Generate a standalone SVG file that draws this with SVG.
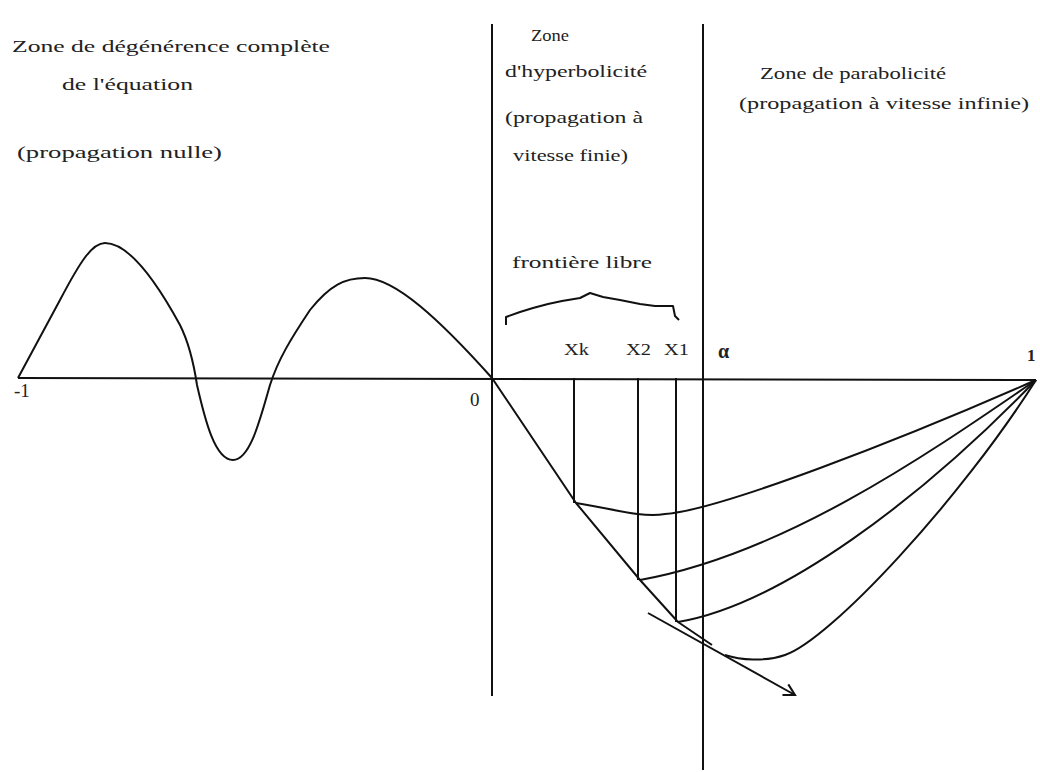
<svg xmlns="http://www.w3.org/2000/svg" width="1040" height="772" viewBox="0 0 1040 772">
<style>
text{font-family:"Liberation Serif","Times New Roman",serif;font-size:17px;fill:#222}
.ln{fill:none;stroke:#111;stroke-width:2;stroke-linejoin:round}
</style>
<defs>
<marker id="arr" markerWidth="14" markerHeight="14" refX="12" refY="7" orient="auto" markerUnits="userSpaceOnUse">
<path d="M1,1 L12,7 L1,13" fill="none" stroke="#111" stroke-width="2"/>
</marker>
</defs>
<rect width="1040" height="772" fill="#fff"/>
<g id="labels">
<text x="12" y="52" textLength="318" lengthAdjust="spacingAndGlyphs">Zone de dégénérence complète</text>
<text x="62" y="90" textLength="131" lengthAdjust="spacingAndGlyphs">de l'équation</text>
<text x="17" y="158" textLength="205" lengthAdjust="spacingAndGlyphs">(propagation nulle)</text>
<text x="531" y="41" textLength="38" lengthAdjust="spacingAndGlyphs">Zone</text>
<text x="505" y="77" textLength="142" lengthAdjust="spacingAndGlyphs">d'hyperbolicité</text>
<text x="505" y="123" textLength="138" lengthAdjust="spacingAndGlyphs">(propagation à</text>
<text x="513" y="161" textLength="115" lengthAdjust="spacingAndGlyphs">vitesse finie)</text>
<text x="760" y="79" textLength="186" lengthAdjust="spacingAndGlyphs">Zone de parabolicité</text>
<text x="739" y="109" textLength="290" lengthAdjust="spacingAndGlyphs">(propagation à vitesse infinie)</text>
<text x="512" y="268" textLength="140" lengthAdjust="spacingAndGlyphs">frontière libre</text>
<text x="564" y="355" textLength="25" lengthAdjust="spacingAndGlyphs">Xk</text>
<text x="626" y="355" textLength="25" lengthAdjust="spacingAndGlyphs">X2</text>
<text x="664" y="355" textLength="25" lengthAdjust="spacingAndGlyphs">X1</text>
<text x="718" y="358" style="font-weight:bold;font-size:20px">α</text>
<text x="14" y="397" style="font-size:19px">-1</text>
<text x="470" y="406" style="font-size:19px">0</text>
<text x="1027" y="361" style="font-weight:bold">1</text>
</g>
<g id="connectors">
<line class="ln" x1="18" y1="378" x2="1036" y2="380"/>
<line class="ln" x1="492" y1="24" x2="492" y2="696"/>
<line class="ln" x1="703" y1="24" x2="703" y2="770"/>
<line class="ln" x1="574" y1="378" x2="574" y2="503"/>
<line class="ln" x1="638" y1="378" x2="638" y2="580"/>
<line class="ln" x1="676" y1="378" x2="676" y2="622"/>
<path class="ln" d="M18,378 L60,300 C80,262 92,243 105,243 C125,243 150,270 180,325 C190,345 194,365 197,385 C205,420 215,460 233,460 C250,460 260,420 270,385 C278,360 290,340 310,310 C330,285 345,278 365,278 C395,278 440,320 492,378 L576,503 L640,580 L678,622 L712,645"/>
<path class="ln" d="M648,613 L795,695" marker-end="url(#arr)"/>
<path class="ln" d="M576,503 C610,508 640,518 665,514 C720,510 900,440 1036,380"/>
<path class="ln" d="M640,580 C780,555 920,460 1036,380"/>
<path class="ln" d="M678,622 C780,605 920,500 1036,380"/>
<path class="ln" d="M725,655 C740,660 765,662 785,655 C830,640 960,500 1036,380"/>
<path class="ln" d="M506,325 L506,317 L520,312 L533,308 L548,304 L562,301 L580,298 L590,293 L603,297 L620,300 L640,304 L655,306 L673,306 L675,316 L679,320"/>
</g>
</svg>
